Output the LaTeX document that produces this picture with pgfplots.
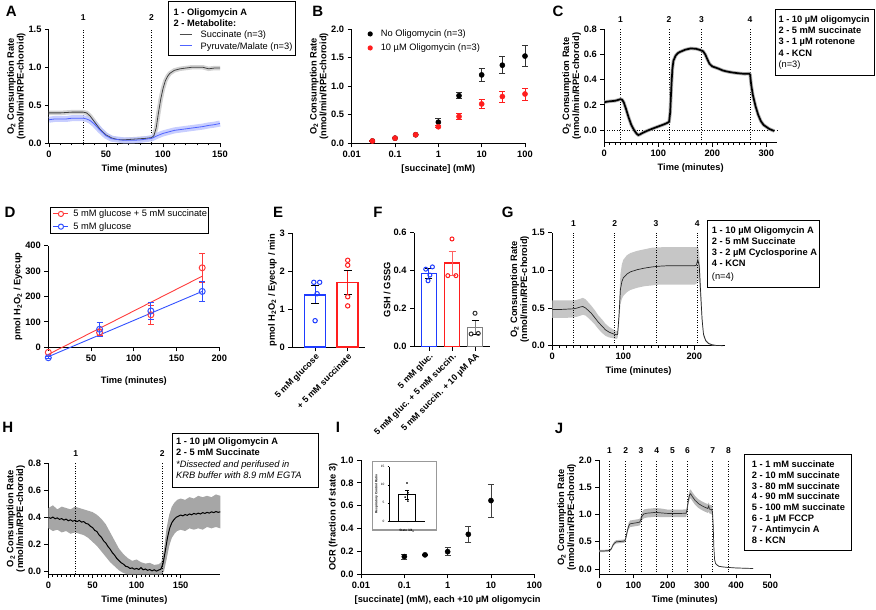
\documentclass[border=0pt]{standalone}
\usepackage{pgfplots}
\pgfplotsset{compat=1.18}
\usepackage{pgfplotstable}
\usepackage{fontspec}
\setmainfont{Liberation Sans}
\newcommand\fTk{\fontsize{9.3}{10}\selectfont\bfseries}
\newcommand\fLb{\fontsize{9.3}{9.8}\selectfont\bfseries}
\newcommand\fLg{\fontsize{9.3}{11.2}\selectfont}
\newcommand\fPl{\fontsize{15}{15}\selectfont\bfseries}
\newcommand\fNm{\fontsize{8.5}{9}\selectfont\bfseries}
\newcommand\fRt{\fontsize{8.8}{9}\selectfont\bfseries}
\definecolor{cblue}{RGB}{30,60,255}
\definecolor{cred}{RGB}{255,30,30}
\definecolor{ablue}{RGB}{80,100,255}
\definecolor{ablueband}{RGB}{190,198,255}
\definecolor{dblue}{RGB}{50,80,255}
\definecolor{dred}{RGB}{255,60,60}
\newcommand\lgl[1]{\textcolor{#1}{\rule[0.3em]{12pt}{0.8pt}}}
\newcommand\lgm[1]{\tikz[baseline=-0.5ex]{\draw[#1,line width=0.9pt] (0,0)--(15pt,0); \draw[#1,line width=1pt,fill=white] (7.5pt,0) circle (2.6pt);}}
\newcommand\lgd[1]{\tikz[baseline=-0.5ex]{\fill[#1] (0,0) circle (2.6pt);}}

\pgfplotsset{
 prism/.style={
  scale only axis, anchor=south west,
  axis x line*=bottom, axis y line*=left,
  axis line style={line width=1pt, black},
  tick align=outside,
  tick style={line width=0.9pt, black},
  major tick length=4pt, minor tick length=2.2pt,
  tick label style={font=\fTk},
  label style={font=\fLb},
  ylabel style={align=center},
  ylabel shift=-4pt,
  clip=false,
  /pgf/number format/assume math mode=true,
 },
 dec1/.style={yticklabel style={/pgf/number format/fixed, /pgf/number format/fixed zerofill, /pgf/number format/precision=1}},
 vl/.style={black, line width=0.8pt, dash pattern=on 0.9pt off 1.6pt},
}

\pgfplotstableread{
t m
0 0.40
5 0.40
10 0.40
15 0.405
20 0.41
25 0.41
30 0.41
33 0.40
36 0.36
40 0.28
45 0.18
50 0.11
55 0.07
60 0.05
65 0.045
70 0.05
75 0.055
80 0.06
85 0.065
90 0.075
92 0.10
94 0.20
96 0.40
98 0.58
100 0.72
102 0.82
104 0.88
106 0.92
110 0.96
115 0.98
120 0.99
125 1.00
130 1.00
135 1.00
140 0.98
145 0.99
150 0.99
}\tblAs
\pgfplotstableread{
t m
0 0.31
5 0.32
10 0.32
15 0.32
20 0.33
25 0.33
30 0.33
33 0.32
36 0.30
40 0.25
45 0.17
50 0.10
55 0.06
60 0.05
65 0.04
70 0.04
75 0.04
80 0.045
85 0.055
90 0.065
95 0.10
100 0.13
105 0.15
110 0.17
115 0.18
120 0.19
125 0.20
130 0.21
135 0.22
140 0.235
145 0.245
150 0.26
}\tblAp
\pgfplotstableread{
t m
0 0.22
5 0.225
10 0.228
15 0.23
20 0.232
25 0.238
30 0.245
33 0.24
36 0.22
40 0.17
45 0.10
50 0.04
55 0.00
60 -0.03
63 -0.04
66 -0.035
70 -0.025
80 -0.005
90 0.012
100 0.028
110 0.044
116 0.055
120 0.065
122 0.14
124 0.33
126 0.48
128 0.55
132 0.59
136 0.61
140 0.62
150 0.638
160 0.648
170 0.645
178 0.635
183 0.625
187 0.60
191 0.56
195 0.525
200 0.505
210 0.49
220 0.472
230 0.462
240 0.455
250 0.45
260 0.446
268 0.448
270 0.44
272 0.36
275 0.28
280 0.19
285 0.12
290 0.07
295 0.04
300 0.025
305 0.01
310 0.0
315 -0.008
}\tblC
\pgfplotstableread{
t m
0 0.48
10 0.48
20 0.485
30 0.49
35 0.50
40 0.515
43 0.52
47 0.50
55 0.43
60 0.37
65 0.31
70 0.26
75 0.21
80 0.18
85 0.16
90 0.145
92 0.15
94 0.40
96 0.75
98 0.85
100 0.90
105 0.95
110 0.98
120 1.01
130 1.03
140 1.045
150 1.055
160 1.06
180 1.06
200 1.06
203 1.07
205 1.14
207 1.06
209 0.70
211 0.35
213 0.15
216 0.07
220 0.03
225 0.012
232 0.002
240 0.0
}\tblG
\pgfplotstableread{
t m
0 0.400
2.5 0.394
5 0.403
7.5 0.391
10 0.397
12.5 0.386
15 0.392
17.5 0.381
20 0.388
22.5 0.376
25 0.383
27.5 0.372
30 0.379
32.5 0.370
35 0.378
37.5 0.366
40 0.370
42.5 0.356
45 0.352
47.5 0.335
50 0.326
52.5 0.305
55 0.296
57.5 0.270
60 0.255
62.5 0.228
65 0.212
67.5 0.186
70 0.166
72.5 0.140
75 0.122
77.5 0.098
80 0.082
82.5 0.066
85 0.056
87.5 0.040
90 0.036
92.5 0.024
95 0.028
97.5 0.018
100 0.024
102.5 0.016
105 0.030
107.5 0.014
110 0.020
112.5 0.010
115 0.016
117.5 0.006
120 0.014
122.5 0.004
125 0.012
127.5 0.018
130 0.060
132.5 0.150
135 0.250
137.5 0.320
140 0.362
142.5 0.385
145 0.402
147.5 0.410
150 0.418
152.5 0.412
155 0.422
157.5 0.416
160 0.426
162.5 0.420
165 0.430
167.5 0.424
170 0.432
172.5 0.426
175 0.436
177.5 0.430
180 0.438
182.5 0.432
185 0.442
187.5 0.436
190 0.444
192.5 0.438
195 0.442
}\tblHm
\pgfplotstableread{
t m
0 0.33
10 0.33
20 0.335
30 0.34
35 0.37
40 0.44
45 0.48
50 0.50
60 0.505
70 0.51
75 0.52
78 0.58
82 0.70
86 0.79
90 0.83
100 0.84
110 0.85
118 0.86
121 0.90
125 0.97
130 1.01
140 1.025
150 1.03
165 1.04
180 1.03
200 1.02
220 1.02
240 1.02
254 1.025
257 1.10
260 1.25
264 1.36
267 1.38
272 1.33
280 1.26
290 1.20
300 1.16
310 1.13
317 1.11
320 1.16
322 1.10
328 1.09
331 1.05
333 0.80
335 0.40
337 0.18
340 0.10
345 0.07
350 0.05
360 0.04
375 0.03
400 0.02
425 0.015
450 0.01
}\tblJ

\begin{document}
\begin{tikzpicture}[x=1pt,y=1pt]
\useasboundingbox (0,0) rectangle (876,610);

% panel letters
\node[font=\fPl] at (11.3,598.7) {A};
\node[font=\fPl] at (317.7,599) {B};
\node[font=\fPl] at (558,599) {C};
\node[font=\fPl] at (10,398) {D};
\node[font=\fPl] at (278,398) {E};
\node[font=\fPl] at (378,398) {F};
\node[font=\fPl] at (507.7,398) {G};
\node[font=\fPl] at (7.7,182.3) {H};
\node[font=\fPl] at (338,182.3) {I};
\node[font=\fPl] at (559,182) {J};

% ---------------- A
\begin{axis}[prism, dec1, at={(49pt,466.7pt)}, width=171pt, height=114pt,
  xmin=0, xmax=150, ymin=0, ymax=1.5, xtick={0,50,100,150}, minor x tick num=4,
  ytick={0,0.5,1,1.5}, xlabel={Time (minutes)},
  ylabel={O\textsubscript{2} Consumption Rate\\(nmol/min/RPE-choroid)}]
\addplot[vl] coordinates {(30,0) (30,1.5)};
\addplot[vl] coordinates {(90,0) (90,1.5)};
\addplot[gray!35, line width=4.4pt] table[x=t,y=m] {\tblAs};
\addplot[ablueband, line width=6pt, opacity=0.85] table[x=t,y=m] {\tblAp};
\addplot[black!75, line width=0.8pt] table[x=t,y=m] {\tblAs};
\addplot[ablue, line width=0.8pt] table[x=t,y=m] {\tblAp};
\node[font=\fNm, anchor=south, yshift=5pt] at (axis cs:30,1.5) {1};
\node[font=\fNm, anchor=south, yshift=5pt] at (axis cs:90,1.5) {2};
\end{axis}
\draw[line width=1pt] (168.3,608.3) rectangle (295,554);
\node[anchor=north west, inner sep=0pt, align=left, font=\fLg] at (173.5,601.5)
 {\textbf{1 - Oligomycin A}\\ \textbf{2 - Metabolite:}\\ \hspace*{6pt}\lgl{black!70}\hspace*{9pt}Succinate (n=3)\\ \hspace*{6pt}\lgl{ablue}\hspace*{9pt}Pyruvate/Malate (n=3)};

% ---------------- B
\begin{axis}[prism, dec1, at={(351.7pt,466.7pt)}, width=173.3pt, height=114pt,
  xmode=log, xmin=0.01, xmax=100, ymin=0, ymax=2, xminorticks=false,
  xtick={0.01,0.1,1,10,100}, xticklabels={0.01,0.1,1,10,100},
  ytick={0,0.5,1,1.5,2}, xlabel={[succinate] (mM)},
  ylabel={O\textsubscript{2} Consumption Rate\\(nmol/min/RPE-choroid)}]
\addplot[only marks, mark=*, mark size=2.6pt, black, error bars/.cd, y dir=both, y explicit,
  error bar style={line width=0.9pt, black!80}, error mark options={rotate=90, mark size=3pt, line width=0.9pt, black!80}]
 coordinates {(0.03,0.04) (0.1,0.09) (0.3,0.15) (1,0.37) +- (0,0.06) (3,0.835) +- (0,0.055) (10,1.20) +- (0,0.11) (30,1.37) +- (0,0.15) (100,1.53) +- (0,0.18)};
\addplot[only marks, mark=*, mark size=2.6pt, cred, error bars/.cd, y dir=both, y explicit,
  error bar style={line width=0.9pt, cred}, error mark options={rotate=90, mark size=3pt, line width=0.9pt, cred}]
 coordinates {(0.03,0.04) +- (0,0.01) (0.1,0.09) (0.3,0.15) (1,0.29) +- (0,0.02) (3,0.47) +- (0,0.05) (10,0.69) +- (0,0.085) (30,0.82) +- (0,0.095) (100,0.865) +- (0,0.105)};
\end{axis}
\node[anchor=west, inner sep=0pt, font=\fLg] at (367.4,576) {\lgd{black}\hspace{8pt}No Oligomycin (n=3)};
\node[anchor=west, inner sep=0pt, font=\fLg] at (367.4,562) {\lgd{cred}\hspace{8pt}10 µM Oligomycin (n=3)};

% ---------------- C
\begin{axis}[prism, dec1, at={(604.3pt,467.4pt)}, width=172.8pt, height=113.3pt,
  xmin=0, xmax=320, ymin=-0.1, ymax=0.8, xtick={0,100,200,300}, minor x tick num=9,
  ytick={0,0.2,0.4,0.6,0.8}, xlabel={Time (minutes)},
  ylabel={O\textsubscript{2} Consumption Rate\\(nmol/min/RPE-choroid)}]
\addplot[vl] coordinates {(0,0) (320,0)};
\addplot[vl] coordinates {(30,-0.1) (30,0.8)};
\addplot[vl] coordinates {(120,-0.1) (120,0.8)};
\addplot[vl] coordinates {(180,-0.1) (180,0.8)};
\addplot[vl] coordinates {(270,-0.1) (270,0.8)};
\addplot[gray!60, line width=3.4pt] table[x=t,y=m] {\tblC};
\addplot[black, line width=1.7pt] table[x=t,y=m] {\tblC};
\node[font=\fNm, anchor=south, yshift=3pt] at (axis cs:30,0.8) {1};
\node[font=\fNm, anchor=south, yshift=3pt] at (axis cs:120,0.8) {2};
\node[font=\fNm, anchor=south, yshift=3pt] at (axis cs:180,0.8) {3};
\node[font=\fNm, anchor=south, yshift=3pt] at (axis cs:270,0.8) {4};
\end{axis}
\draw[line width=1pt] (775.7,600) rectangle (874,534);
\node[anchor=north west, inner sep=0pt, align=left, font=\fLg] at (778.3,594.5)
 {\textbf{1 - 10 µM oligomycin}\\\textbf{2 - 5 mM succinate}\\\textbf{3 - 1 µM rotenone}\\\textbf{4 - KCN}\\(n=3)};

% ---------------- D
\begin{axis}[prism, at={(48.3pt,262.7pt)}, width=171pt, height=101.6pt,
  xmin=0, xmax=200, ymin=0, ymax=400, xtick={50,100,150,200}, extra x ticks={0}, extra x tick labels={},
  ytick={0,100,200,300,400}, xlabel={Time (minutes)},
  ylabel={pmol H\textsubscript{2}O\textsubscript{2} / Eyecup}]
\addplot[dred, line width=0.9pt] coordinates {(0,-28) (180,280)};
\addplot[dblue, line width=0.9pt] coordinates {(0,-37) (180,220)};
\addplot[only marks, mark=o, mark size=3pt, dred, mark options={line width=1pt}, error bars/.cd, y dir=both, y explicit,
  error bar style={line width=0.9pt, dred}, error mark options={rotate=90, mark size=3pt, line width=0.9pt, dred}]
 coordinates {(0,-20) (60,58) +- (0,12) (120,128) +- (0,37) (180,313) +- (0,57)};
\addplot[only marks, mark=o, mark size=3pt, dblue, mark options={line width=1pt}, error bars/.cd, y dir=both, y explicit,
  error bar style={line width=0.9pt, dblue}, error mark options={rotate=90, mark size=3pt, line width=0.9pt, dblue}]
 coordinates {(0,-41) +- (0,4) (60,71) +- (0,27) (120,143) +- (0,33) (180,220) +- (0,38)};
\end{axis}
\draw[line width=1pt] (50.7,402.3) rectangle (208.3,376.7);
\node[anchor=west, inner sep=0pt, font=\fLg] at (52.8,396) {\lgm{dred}\hspace{4.5pt}5 mM glucose + 5 mM succinate};
\node[anchor=west, inner sep=0pt, font=\fLg] at (52.8,383.3) {\lgm{dblue}\hspace{4.5pt}5 mM glucose};

% ---------------- E
\begin{axis}[prism, at={(292.3pt,262.7pt)}, width=73pt, height=114pt,
  xmin=-0.7, xmax=1.54, ymin=0, ymax=3, ytick={0,1,2,3}, xtick={0,1},
  xticklabels={5 mM glucose,+ 5 mM succinate},
  xticklabel style={rotate=45, anchor=north east, font=\fRt, inner sep=1pt},
  ylabel={pmol H\textsubscript{2}O\textsubscript{2} / Eyecup / min}]
\addplot[ybar, bar width=0.64, bar shift=0pt, draw=cblue, fill=white, line width=1.6pt,
  error bars/.cd, y dir=both, y explicit, error bar style={line width=1pt}, error mark options={rotate=90, mark size=4pt, line width=1pt}]
 coordinates {(0,1.38) +- (0,0.235)};
\addplot[ybar, bar width=0.64, bar shift=0pt, draw=cred, fill=white, line width=1.6pt,
  error bars/.cd, y dir=both, y explicit, error bar style={line width=1pt}, error mark options={rotate=90, mark size=4pt, line width=1pt}]
 coordinates {(1,1.71) +- (0,0.31)};
\addplot[only marks, mark=o, mark size=2.2pt, cblue, mark options={line width=1pt}]
 coordinates {(-0.04,1.71) (0.14,1.71) (0.06,1.41) (0,0.70)};
\addplot[only marks, mark=o, mark size=2.2pt, cred, mark options={line width=1pt}]
 coordinates {(1,2.29) (1,2.16) (1,1.33) (1,1.09)};
\end{axis}

% ---------------- F
\begin{axis}[prism, dec1, at={(414pt,263.3pt)}, width=76pt, height=114pt,
  xmin=-0.65, xmax=2.65, ymin=0, ymax=0.6, ytick={0,0.2,0.4,0.6}, xtick={0,1,2},
  xticklabels={5 mM gluc.,5 mM gluc. + 5 mM succin.,5 mM succin. + 10 µM AA},
  xticklabel style={rotate=45, anchor=north east, font=\fRt, inner sep=1pt},
  ylabel={GSH / GSSG}]
\addplot[ybar, bar width=0.64, bar shift=0pt, draw=cblue, fill=white, line width=1.6pt,
  error bars/.cd, y dir=both, y explicit, error bar style={line width=1pt}, error mark options={rotate=90, mark size=3.5pt, line width=1pt}]
 coordinates {(0,0.386) +- (0,0.025)};
\addplot[ybar, bar width=0.64, bar shift=0pt, draw=cred, fill=white, line width=1.6pt,
  error bars/.cd, y dir=both, y explicit, error bar style={line width=1pt, cred!70}, error mark options={rotate=90, mark size=3.5pt, line width=1pt, cred!70}]
 coordinates {(1,0.439) +- (0,0.064)};
\addplot[ybar, bar width=0.64, bar shift=0pt, draw=gray, fill=white, line width=1.6pt,
  error bars/.cd, y dir=both, y explicit, error bar style={line width=1pt}, error mark options={rotate=90, mark size=3.5pt, line width=1pt}]
 coordinates {(2,0.10) +- (0,0.038)};
\addplot[only marks, mark=o, mark size=2pt, cblue, mark options={line width=1pt}]
 coordinates {(0.15,0.42) (-0.14,0.408) (0.04,0.377) (-0.04,0.347)};
\addplot[only marks, mark=o, mark size=2pt, cred, mark options={line width=1pt}]
 coordinates {(1,0.567) (0.82,0.374) (1.17,0.374)};
\addplot[only marks, mark=o, mark size=2pt, black!80, mark options={line width=1pt}]
 coordinates {(2,0.176) (1.83,0.067) (2.14,0.07)};
\end{axis}

% ---------------- G
\begin{axis}[prism, dec1, at={(552.3pt,264.3pt)}, width=172.5pt, height=113pt,
  xmin=0, xmax=243, ymin=0, ymax=1.5, xtick={0,100,200}, minor x tick num=9,
  ytick={0,0.5,1,1.5}, xlabel={Time (minutes)},
  ylabel={O\textsubscript{2} Consumption Rate\\(nmol/min/RPE-choroid)}]
\addplot[fill=gray!45, draw=none] coordinates {
(0,.60)(10,.60)(20,.60)(30,.60)(35,.61)(40,.625)(43,.635)(47,.615)(55,.53)(60,.47)(65,.40)(70,.35)(75,.29)(80,.25)(85,.22)(90,.195)(92,.20)(94,.55)(96,.95)(98,1.08)(100,1.14)(105,1.20)(110,1.23)(120,1.26)(130,1.28)(140,1.30)(150,1.305)(160,1.31)(180,1.31)(200,1.31)(203,1.31)(205,1.32)(207,1.25)(209,.85)(211,.42)(213,.18)(216,.085)(220,.04)(225,.02)(232,.006)(240,.002)
(240,0)(232,0)(225,.005)(220,.02)(216,.055)(213,.12)(211,.28)(209,.55)(207,.82)(205,.90)(203,.82)(200,.81)(180,.81)(160,.81)(150,.81)(140,.80)(130,.79)(120,.77)(110,.74)(105,.71)(100,.66)(98,.62)(96,.55)(94,.30)(92,.10)(90,.09)(85,.10)(80,.11)(75,.13)(70,.17)(65,.22)(60,.28)(55,.33)(47,.40)(43,.41)(40,.40)(35,.385)(30,.375)(20,.37)(10,.37)(0,.37)};
\addplot[vl] coordinates {(30,0) (30,1.5)};
\addplot[vl] coordinates {(88,0) (88,1.5)};
\addplot[vl] coordinates {(146,0) (146,1.5)};
\addplot[vl] coordinates {(204,0) (204,1.5)};
\addplot[black!85, line width=0.7pt] table[x=t,y=m] {\tblG};
\node[font=\fNm, anchor=south, yshift=3pt] at (axis cs:30,1.5) {1};
\node[font=\fNm, anchor=south, yshift=3pt] at (axis cs:88,1.5) {2};
\node[font=\fNm, anchor=south, yshift=3pt] at (axis cs:146,1.5) {3};
\node[font=\fNm, anchor=south, yshift=3pt] at (axis cs:204,1.5) {4};
\end{axis}
\draw[line width=1pt] (707.7,389.3) rectangle (819,322.7);
\node[anchor=north west, inner sep=0pt, align=left, font=\fLg] at (711.7,383.8)
 {\textbf{1 - 10 µM Oligomycin A}\\\textbf{2 - 5 mM Succinate}\\\textbf{3 - 2 µM Cyclosporine A}\\\textbf{4 - KCN}\\[2pt](n=4)};

% ---------------- H
\begin{axis}[prism, dec1, at={(48.5pt,35.6pt)}, width=171.8pt, height=111.1pt,
  xmin=0, xmax=195, ymin=-0.02, ymax=0.8, xtick={0,50,100,150}, minor x tick num=9,
  ytick={0,0.2,0.4,0.6,0.8}, xlabel={Time (minutes)},
  ylabel={O\textsubscript{2} Consumption Rate\\(nmol/min/RPE-choroid)}]
\addplot[fill=gray!70, draw=none] coordinates {
(0,.47)(5,.49)(10,.46)(15,.48)(20,.47)(25,.46)(30,.48)(35,.47)(40,.46)(45,.45)(50,.44)(55,.42)(60,.39)(65,.35)(70,.29)(75,.23)(80,.17)(85,.13)(90,.10)(95,.08)(100,.09)(105,.07)(110,.06)(115,.065)(120,.05)(125,.055)(128,.07)(131,.16)(134,.32)(137,.42)(140,.48)(143,.51)(146,.53)(150,.54)(155,.53)(160,.55)(165,.54)(170,.56)(175,.55)(180,.56)(185,.55)(190,.57)(195,.56)
(195,.32)(190,.33)(185,.32)(180,.33)(175,.31)(170,.32)(165,.31)(160,.32)(155,.30)(150,.31)(146,.30)(143,.28)(140,.25)(137,.19)(134,.09)(131,0)(128,-.02)(90,-.02)(85,-.01)(80,.01)(75,.04)(70,.07)(65,.11)(60,.15)(55,.19)(50,.22)(45,.25)(40,.27)(35,.28)(30,.29)(25,.28)(20,.30)(15,.29)(10,.31)(5,.30)(0,.32)};
\addplot[vl] coordinates {(31,-0.02) (31,0.8)};
\addplot[vl] coordinates {(129,-0.02) (129,0.8)};
\addplot[black, line width=1pt] table[x=t,y=m] {\tblHm};
\node[font=\fNm, anchor=south, yshift=3pt] at (axis cs:31,0.8) {1};
\node[font=\fNm, anchor=south, yshift=3pt] at (axis cs:129,0.8) {2};
\end{axis}
\draw[line width=1pt] (172.3,176.7) rectangle (318.3,122.7);
\node[anchor=north west, inner sep=0pt, align=left, font=\fLg] at (176,172.3)
 {\textbf{1 - 10 µM Oligomycin A}\\\textbf{2 - 5 mM Succinate}\\\textit{*Dissected and perifused in}\\\textit{KRB buffer with 8.9 mM EGTA}};

% ---------------- I
\begin{axis}[prism, dec1, at={(361pt,35.7pt)}, width=173.3pt, height=114.3pt,
  xmode=log, xmin=0.01, xmax=100, ymin=0, ymax=1, xminorticks=false,
  xtick={0.01,0.1,1,10,100}, xticklabels={0.01,0.1,1,10,100},
  ytick={0,0.2,0.4,0.6,0.8,1}, xlabel={[succinate] (mM), each +10 µM oligomycin},
  ylabel={OCR (fraction of state 3)}]
\addplot[only marks, mark=*, mark size=2.6pt, black, error bars/.cd, y dir=both, y explicit,
  error bar style={line width=0.9pt, black!75}, error mark options={rotate=90, mark size=3pt, line width=0.9pt, black!75}]
 coordinates {(0.1,0.155) +- (0,0.023) (0.3,0.17) +- (0,0.008) (1,0.198) +- (0,0.036) (3,0.35) +- (0,0.07) (10,0.645) +- (0,0.145)};
\end{axis}
\draw[gray!80, line width=1.2pt] (372.3,148.3) rectangle (436.7,80);
\begin{axis}[scale only axis, anchor=south west, at={(389pt,89pt)}, width=36pt, height=54.3pt,
  axis x line*=bottom, axis y line*=left, axis line style={line width=0.5pt},
  tick style={line width=0.4pt,black}, tick align=outside, major tick length=1.5pt,
  xmin=-1, xmax=1, ymin=0, ymax=15, ytick={0,5,10,15}, xtick={0}, xticklabels={},
  tick label style={font=\fontsize{3.2}{3.5}\selectfont}, yticklabel style={xshift=0.5pt},
  xlabel={State 3/4\textsubscript{O}}, ylabel={Respiratory Control Ratio},
  label style={font=\fontsize{3.2}{3.5}\selectfont\bfseries}, xlabel style={yshift=4pt}, ylabel style={yshift=-4pt},
  clip=false, /pgf/number format/assume math mode=true]
\addplot[ybar, bar width=0.96, bar shift=0pt, draw=black, fill=white, line width=0.6pt,
  error bars/.cd, y dir=both, y explicit, error bar style={line width=0.4pt}, error mark options={rotate=90, mark size=2pt, line width=0.4pt}]
 coordinates {(0,7.3) +- (0,1.2)};
\addplot[only marks, mark=*, mark size=0.6pt, black] coordinates {(0,10.5) (0.05,7.8) (-0.1,6.6) (0.05,5.5)};
\end{axis}

% ---------------- J
\begin{axis}[prism, dec1, at={(599.3pt,35.5pt)}, width=171pt, height=114.5pt,
  xmin=0, xmax=500, ymin=-0.1, ymax=2, xtick={0,100,200,300,400,500},
  ytick={0,0.5,1,1.5,2}, xlabel={Time (minutes)},
  ylabel={O\textsubscript{2} Consumption Rate\\(nmol/min/RPE-choroid)}]
\addplot[fill=gray!55, draw=none] coordinates {
(0,.35)(10,.35)(20,.355)(30,.36)(35,.39)(40,.47)(45,.51)(50,.53)(60,.535)(70,.54)(75,.55)(78,.62)(82,.75)(86,.85)(90,.89)(100,.90)(110,.91)(118,.92)(121,.96)(125,1.04)(130,1.09)(140,1.105)(150,1.11)(165,1.12)(180,1.11)(200,1.09)(220,1.09)(240,1.09)(254,1.095)(257,1.17)(260,1.33)(264,1.44)(267,1.46)(272,1.41)(280,1.34)(290,1.28)(300,1.24)(310,1.21)(317,1.19)(320,1.22)(322,1.18)(328,1.17)(331,1.13)(333,.86)(335,.44)(337,.20)(340,.11)(345,.08)(350,.06)(360,.045)(375,.035)(400,.025)(425,.02)(450,.015)
(450,.005)(425,.01)(400,.015)(375,.025)(360,.035)(350,.04)(345,.06)(340,.09)(337,.16)(335,.36)(333,.74)(331,.97)(328,1.01)(322,1.02)(320,1.05)(317,1.03)(310,1.05)(300,1.08)(290,1.12)(280,1.18)(272,1.25)(267,1.30)(264,1.28)(260,1.17)(257,1.03)(254,.955)(240,.95)(220,.95)(200,.95)(180,.95)(165,.96)(150,.95)(140,.945)(130,.93)(125,.90)(121,.84)(118,.80)(110,.79)(100,.78)(90,.77)(86,.73)(82,.65)(78,.54)(75,.49)(70,.48)(60,.475)(50,.47)(45,.45)(40,.41)(35,.35)(30,.32)(20,.315)(10,.31)(0,.31)};
\addplot[vl] coordinates {(30,-0.1) (30,2)};
\addplot[vl] coordinates {(77,-0.1) (77,2)};
\addplot[vl] coordinates {(122,-0.1) (122,2)};
\addplot[vl] coordinates {(168,-0.1) (168,2)};
\addplot[vl] coordinates {(214,-0.1) (214,2)};
\addplot[vl] coordinates {(258,-0.1) (258,2)};
\addplot[vl] coordinates {(332,-0.1) (332,2)};
\addplot[vl] coordinates {(378,-0.1) (378,2)};
\addplot[black!80, line width=0.7pt] table[x=t,y=m] {\tblJ};
\node[font=\fNm, anchor=south, yshift=3pt] at (axis cs:30,2) {1};
\node[font=\fNm, anchor=south, yshift=3pt] at (axis cs:77,2) {2};
\node[font=\fNm, anchor=south, yshift=3pt] at (axis cs:122,2) {3};
\node[font=\fNm, anchor=south, yshift=3pt] at (axis cs:168,2) {4};
\node[font=\fNm, anchor=south, yshift=3pt] at (axis cs:214,2) {5};
\node[font=\fNm, anchor=south, yshift=3pt] at (axis cs:258,2) {6};
\node[font=\fNm, anchor=south, yshift=3pt] at (axis cs:332,2) {7};
\node[font=\fNm, anchor=south, yshift=3pt] at (axis cs:378,2) {8};
\end{axis}
\draw[line width=1pt] (744.3,155) rectangle (851.7,59.3);
\node[anchor=north west, inner sep=0pt, align=left, font=\fontsize{9.3}{10.85}\selectfont\bfseries] at (751.7,149.5)
 {1 - 1 mM succinate\\2 - 10 mM succinate\\3 - 80 mM succinate\\4 - 90 mM succinate\\5 - 100 mM succinate\\6 - 1 µM FCCP\\7 - Antimycin A\\8 - KCN};

\end{tikzpicture}
\end{document}
